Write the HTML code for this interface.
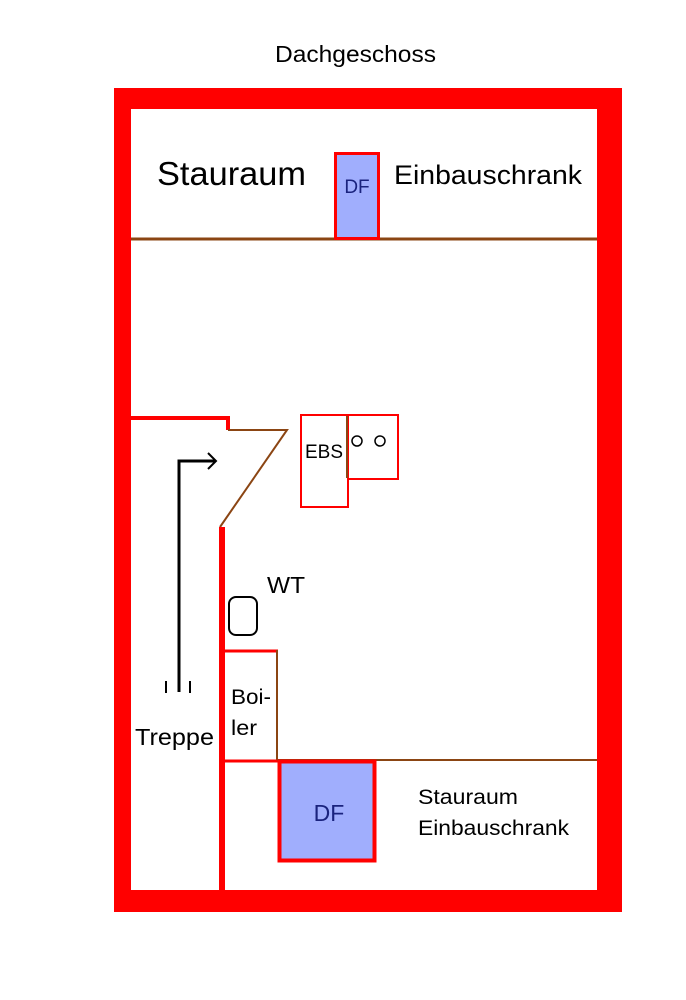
<!DOCTYPE html>
<html><head><meta charset="utf-8"><style>
html,body{margin:0;padding:0;background:#fff;}
svg{display:block;}
text{font-family:"Liberation Sans",sans-serif;}
</style></head><body>
<svg width="686" height="1000" viewBox="0 0 686 1000" xmlns="http://www.w3.org/2000/svg">
<rect width="686" height="1000" fill="#fff"/>
<text x="275" y="62" font-size="23" textLength="161" lengthAdjust="spacingAndGlyphs">Dachgeschoss</text>
<path d="M114,88 H622 V912 H114 Z M131,109 V890 H597 V109 Z" fill="#ff0000" fill-rule="evenodd"/>
<line x1="131" y1="239" x2="597" y2="239" stroke="#8b4513" stroke-width="3"/>
<rect x="335.5" y="153.5" width="43" height="85" fill="#a0aefd" stroke="#ff0000" stroke-width="3"/>
<text x="357" y="193" font-size="19" fill="#1a237e" text-anchor="middle">DF</text>
<text x="157" y="185" font-size="33" textLength="149" lengthAdjust="spacingAndGlyphs">Stauraum</text>
<text x="394" y="184" font-size="27" textLength="188" lengthAdjust="spacingAndGlyphs">Einbauschrank</text>
<polyline points="131,418 228,418 228,430" fill="none" stroke="#ff0000" stroke-width="4"/>
<polyline points="228,430 287,430 220,527" fill="none" stroke="#8b4513" stroke-width="2"/>
<line x1="222" y1="527" x2="222" y2="890" stroke="#ff0000" stroke-width="6"/>
<rect x="301" y="415" width="47" height="92" fill="none" stroke="#ff0000" stroke-width="2"/>
<rect x="348" y="415" width="50" height="64" fill="none" stroke="#ff0000" stroke-width="2"/>
<line x1="347" y1="416" x2="347" y2="478" stroke="#8b4513" stroke-width="2"/>
<circle cx="357" cy="441" r="5" fill="none" stroke="#000" stroke-width="1.5"/>
<circle cx="380" cy="441" r="5" fill="none" stroke="#000" stroke-width="1.5"/>
<text x="305" y="458" font-size="19" textLength="38" lengthAdjust="spacingAndGlyphs">EBS</text>
<polyline points="179,692 179,461 216,461" fill="none" stroke="#000" stroke-width="3"/>
<polyline points="208,453 216,461 208,469" fill="none" stroke="#000" stroke-width="2"/>
<line x1="166" y1="681" x2="166" y2="693" stroke="#000" stroke-width="2"/>
<line x1="190" y1="681" x2="190" y2="693" stroke="#000" stroke-width="2"/>
<text x="135" y="745" font-size="23" textLength="79" lengthAdjust="spacingAndGlyphs">Treppe</text>
<text x="267" y="593" font-size="23" textLength="38" lengthAdjust="spacingAndGlyphs">WT</text>
<rect x="229" y="597" width="28" height="38" rx="7" fill="none" stroke="#000" stroke-width="2"/>
<line x1="222" y1="651" x2="278" y2="651" stroke="#ff0000" stroke-width="3"/>
<line x1="277" y1="650" x2="277" y2="760" stroke="#8b4513" stroke-width="2"/>
<line x1="222" y1="761" x2="278" y2="761" stroke="#ff0000" stroke-width="3"/>
<text x="231" y="704" font-size="21" textLength="40" lengthAdjust="spacingAndGlyphs">Boi-</text>
<text x="231" y="735" font-size="21" textLength="26" lengthAdjust="spacingAndGlyphs">ler</text>
<line x1="277" y1="760" x2="597" y2="760" stroke="#8b4513" stroke-width="2"/>
<rect x="279.5" y="761.5" width="95" height="99" fill="#a0aefd" stroke="#ff0000" stroke-width="4"/>
<text x="329" y="821" font-size="23" fill="#1a237e" text-anchor="middle">DF</text>
<text x="418" y="804" font-size="21" textLength="100" lengthAdjust="spacingAndGlyphs">Stauraum</text>
<text x="418" y="835" font-size="21" textLength="151" lengthAdjust="spacingAndGlyphs">Einbauschrank</text>
</svg>
</body></html>
